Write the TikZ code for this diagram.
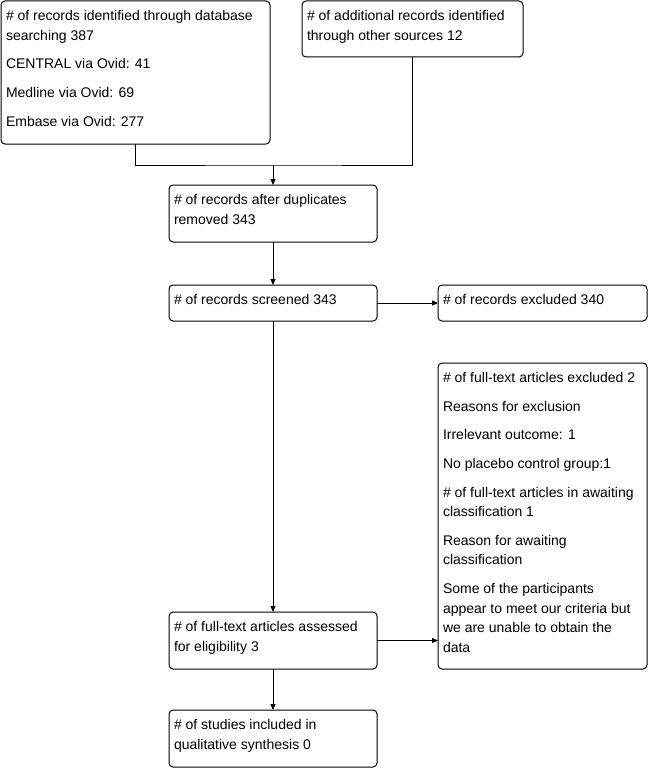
\documentclass[tikz,border=0pt]{standalone}
\usepackage{fontspec}
\setmainfont{Liberation Sans}
\usetikzlibrary{arrows.meta}
\newcommand\flowtext[3]{\begin{minipage}[t][#2][t]{#1}\raggedright\fontsize{14}{19.6}\selectfont\setlength{\parskip}{9pt}\vspace*{3.5pt}#3\end{minipage}}
\tikzset{
  flowbox/.style={draw=black, line width=1pt, rounded corners=4pt, fill=white,
    inner xsep=5pt, inner ysep=6pt, anchor=north west, outer sep=0pt},
  flowarrow/.style={draw=black, line width=1pt, -{Triangle[length=6pt,width=5pt]}},
  flowline/.style={draw=black, line width=1pt}
}
\begin{document}
\begin{tikzpicture}[x=1pt,y=-1pt]
\useasboundingbox[fill=white] (0,0) rectangle (650,768);
\node[flowbox] (A) at (1,1) {\flowtext{259pt}{131pt}{\# of records identified through database\\searching 387\par CENTRAL via Ovid: 41\par Medline via Ovid: 69\par Embase via Ovid: 277}};
\node[flowbox] (B) at (302,1) {\flowtext{211pt}{44pt}{\# of additional records identified\\through other sources 12}};
\node[flowbox] (C) at (169,185) {\flowtext{198pt}{45pt}{\# of records after duplicates\\removed 343}};
\node[flowbox] (D) at (169,285) {\flowtext{198pt}{24pt}{\# of records screened 343}};
\node[flowbox] (E) at (438,285) {\flowtext{199pt}{24pt}{\# of records excluded 340}};
\node[flowbox] (G) at (438,363) {\flowtext{199pt}{294pt}{\# of full-text articles excluded 2\par Reasons for exclusion\par Irrelevant outcome: 1\par No placebo control group:1\par \# of full-text articles in awaiting\\classification 1\par Reason for awaiting\\classification\par Some of the participants\\appear to meet our criteria but\\we are unable to obtain the\\data}};
\node[flowbox] (F) at (169,612) {\flowtext{198pt}{45pt}{\# of full-text articles assessed\\for eligibility 3}};
\node[flowbox] (H) at (169,710) {\flowtext{198pt}{45pt}{\# of studies included in\\qualitative synthesis 0}};
\coordinate (J) at (C.north |- 0,165);
\draw[flowline] (A.south) |- (J) -| (B.south);
\draw[flowarrow] (J) -- (C.north);
\draw[flowarrow] (C.south) -- (D.north);
\draw[flowarrow] (D.east) -- (E.west);
\draw[flowarrow] (D.south) -- (F.north);
\draw[flowarrow] (F.east) -- (F.east -| G.west);
\draw[flowarrow] (F.south) -- (H.north);
\end{tikzpicture}
\end{document}
